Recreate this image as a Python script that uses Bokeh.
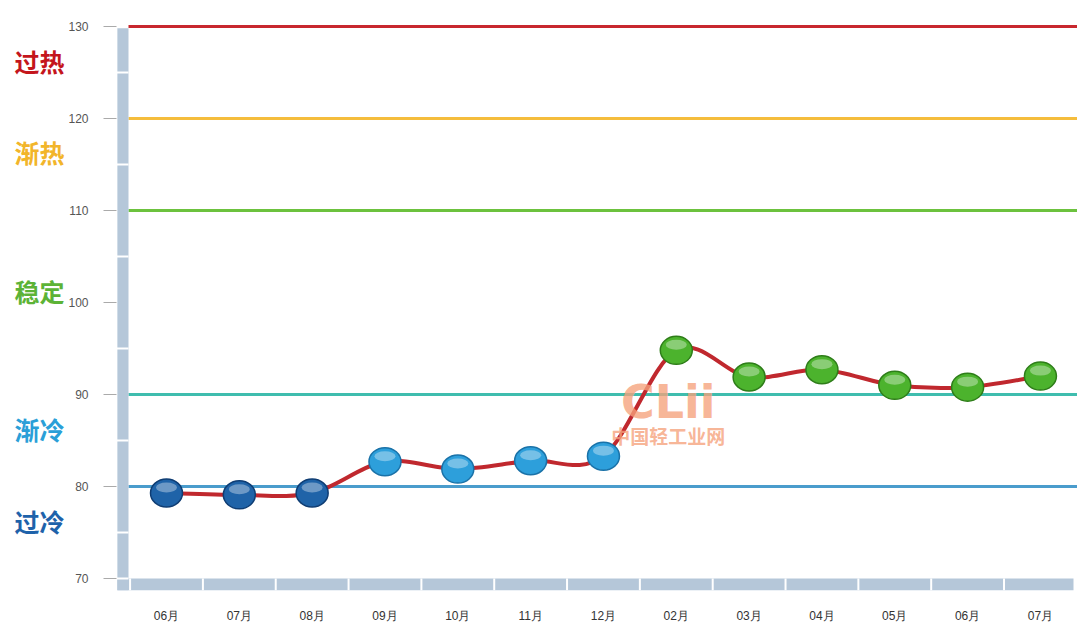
import numpy as np
from bokeh.plotting import figure
from bokeh.layouts import row
from bokeh.models import FixedTicker, Label, Range1d
from bokeh.core.properties import value
from bokeh.embed import file_html
from bokeh.resources import INLINE

# ---------------- data ----------------
months = ["06月", "07月", "08月", "09月", "10月", "11月", "12月",
          "02月", "03月", "04月", "05月", "06月", "07月"]
index_values = [79.3, 79.1, 79.3, 82.7, 81.9, 82.8, 83.3,
                94.8, 91.9, 92.7, 91.0, 90.8, 92.0]
point_fill = ["#1f63a8"] * 3 + ["#2d9fdb"] * 4 + ["#4cb32d"] * 6
point_line = ["#0f3d73"] * 3 + ["#1a72a8"] * 4 + ["#2e7d19"] * 6

level_values = [130, 120, 110, 90, 80]
level_colors = ["#c8282e", "#f5bd3c", "#6cc23e", "#3fbdae", "#4a9ccc"]

zone_names = ["过热", "渐热", "稳定", "渐冷", "过冷"]
zone_colors = ["#c4161c", "#f2b52a", "#5cb336", "#2a9fd8", "#1e62aa"]
zone_label_y = [126.3, 116.4, 101.2, 86.2, 76.3]

y_ticks = [70, 80, 90, 100, 110, 120, 130]

# ---------------- layout constants ----------------
Y0, Y1 = 68.70, 130.65
shared_y = Range1d(Y0, Y1)
LEFT_W = 65
TOP, BOTTOM = 20, 33

# ---------------- left panel with zone labels ----------------
side = figure(width=LEFT_W, height=625, output_backend="svg",
              toolbar_location=None, x_range=Range1d(0, LEFT_W), y_range=shared_y,
              min_border_left=0, min_border_right=0, min_border_top=TOP,
              min_border_bottom=BOTTOM)
side.axis.visible = False
side.grid.visible = False
side.outline_line_color = None
side.text(x=[14] * len(zone_names), y=zone_label_y, text=zone_names,
          text_color=zone_colors, text_align="left", text_baseline="middle",
          text_font=value("Noto Sans CJK SC"), text_font_size="25px",
          text_font_style="bold")

# ---------------- main chart ----------------
X0, X1 = -0.6865, 12.509
p = figure(width=1077 - LEFT_W, height=625, output_backend="svg",
           toolbar_location=None, x_range=Range1d(X0, X1), y_range=shared_y,
           min_border_left=116 - LEFT_W, min_border_right=0, min_border_top=TOP,
           min_border_bottom=BOTTOM)
p.outline_line_color = None
p.grid.visible = False
p.background_fill_color = "white"

# threshold lines
bar_right = -0.5218
p.segment(x0=[bar_right] * len(level_values), x1=[X1] * len(level_values),
          y0=level_values, y1=level_values, line_color=level_colors, line_width=3)

# left vertical bar and bottom bar
bar_color = "#b5c7d9"
p.quad(left=[X0 + 0.012], right=[bar_right], bottom=[Y0], top=[129.8],
       fill_color=bar_color, line_color=None)
p.quad(left=[X0 + 0.012], right=[12.454], bottom=[Y0], top=[70.0],
       fill_color=bar_color, line_color=None)
mids = [75, 85, 95, 105, 115, 125, 70]
p.segment(x0=[X0] * len(mids), x1=[bar_right] * len(mids), y0=mids, y1=mids,
          line_color="white", line_width=2)
bounds = [i - 0.5 for i in range(len(months))]
p.segment(x0=bounds, x1=bounds, y0=[Y0] * len(bounds), y1=[70.0] * len(bounds),
          line_color="white", line_width=2)

# smooth curve (Catmull-Rom bezier through the data points)
xs = np.arange(len(index_values), dtype=float)
ys = np.array(index_values, dtype=float)
px = np.concatenate([[xs[0]], xs, [xs[-1]]])
py = np.concatenate([[ys[0]], ys, [ys[-1]]])
k = 1.0 / 6.0
x0s, y0s, x1s, y1s, cx0, cy0, cx1, cy1 = [], [], [], [], [], [], [], []
for i in range(len(xs) - 1):
    j = i + 1
    x0s.append(px[j]); y0s.append(py[j])
    x1s.append(px[j + 1]); y1s.append(py[j + 1])
    cx0.append(px[j] + (px[j + 1] - px[j - 1]) * k)
    cy0.append(py[j] + (py[j + 1] - py[j - 1]) * k)
    cx1.append(px[j + 1] - (px[j + 2] - px[j]) * k)
    cy1.append(py[j + 1] - (py[j + 2] - py[j]) * k)
p.bezier(x0=x0s, y0=y0s, x1=x1s, y1=y1s, cx0=cx0, cy0=cy0, cx1=cx1, cy1=cy1,
         line_color="#c0282e", line_width=4)

# glossy spheres
p.ellipse(x=xs, y=ys, width=32, height=28, width_units="screen",
          height_units="screen", fill_color=point_fill, line_color=point_line,
          line_width=1.5)
p.ellipse(x=xs, y=ys + 0.6, width=21, height=10, width_units="screen",
          height_units="screen", fill_color="white", fill_alpha=0.35,
          line_color=None)

# watermark
p.add_layout(Label(x=6.89, y=89.2, text="CLii", text_align="center",
                   text_baseline="middle", text_font="DejaVu Sans",
                   text_font_size="46px", text_font_style="bold",
                   text_color="#f6a27c", text_alpha=0.8))
p.add_layout(Label(x=6.89, y=85.5, text="中国轻工业网", text_align="center",
                   text_baseline="middle", text_font="Noto Sans CJK SC",
                   text_font_size="19px", text_font_style="bold",
                   text_color="#f6a27c", text_alpha=0.8))

# axes
p.yaxis.ticker = FixedTicker(ticks=y_ticks)
p.yaxis.axis_line_color = None
p.yaxis.major_tick_out = 13
p.yaxis.major_tick_in = 0
p.yaxis.minor_tick_line_color = None
p.yaxis.major_tick_line_color = "#aaaaaa"
p.yaxis.major_label_standoff = 15
p.yaxis.major_label_text_font = "Liberation Sans"
p.yaxis.major_label_text_font_size = "12px"
p.yaxis.major_label_text_color = "#555555"

p.xaxis.ticker = FixedTicker(ticks=list(range(len(months))))
p.xaxis.major_label_overrides = {i: m for i, m in enumerate(months)}
p.xaxis.axis_line_color = None
p.xaxis.major_tick_line_color = None
p.xaxis.minor_tick_line_color = None
p.xaxis.major_tick_out = 0
p.xaxis.major_tick_in = 0
p.xaxis.major_label_standoff = 18
p.xaxis.major_label_text_font = "Liberation Sans"
p.xaxis.major_label_text_font_size = "12px"
p.xaxis.major_label_text_color = "#333333"

layout = row(side, p, spacing=0)
open("out.html", "w").write(file_html(layout, INLINE))
